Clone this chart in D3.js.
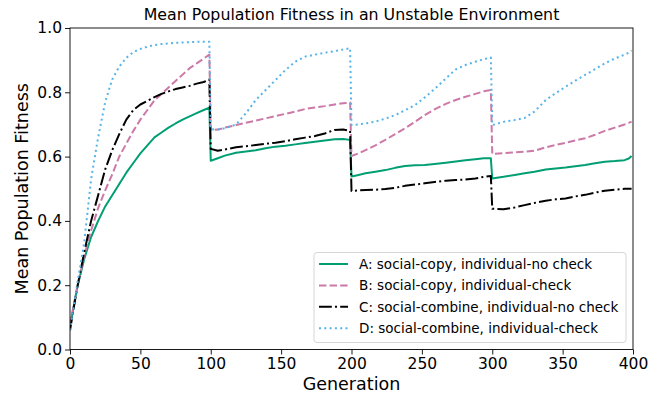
<!DOCTYPE html>
<html lang="en">
<head>
    <meta charset="utf-8">
    <title>Mean Population Fitness</title>
    <script src="https://d3js.org/d3.v7.min.js"></script>
    <style>
        body { margin: 0; background: #fff; }
        text { font-family: "DejaVu Sans", sans-serif; fill: #000; }
    </style>
</head>
<body>
    <svg id="chart" width="660" height="394"></svg>
    <script>
        // generations sampled along the x axis (drops at 100, 200, 300)
        const generations = [
            0, 5, 10, 15, 20, 25, 30, 35, 40, 45, 50, 55, 60, 65, 70, 75, 80, 85, 90, 95, 99,
            100, 105, 110, 118, 125, 132, 139, 146, 153, 160, 167, 174, 181, 188, 194, 199,
            200, 205, 210, 217, 224, 231, 238, 245, 252, 259, 267, 274, 281, 288, 294, 299,
            300, 308, 316, 323, 330, 338, 345, 352, 359, 366, 373, 380, 387, 394, 397, 399
        ];

        const fitnessA = [
            0.07, 0.19, 0.28, 0.35, 0.40, 0.445, 0.48, 0.515, 0.55, 0.58, 0.61, 0.635, 0.66, 0.675, 0.69, 0.703, 0.715, 0.725, 0.735, 0.745, 0.752,
            0.587, 0.595, 0.603, 0.612, 0.616, 0.62, 0.626, 0.631, 0.634, 0.638, 0.642, 0.646, 0.65, 0.654, 0.655, 0.652,
            0.538, 0.543, 0.548, 0.553, 0.558, 0.565, 0.571, 0.573, 0.574, 0.577, 0.581, 0.585, 0.589, 0.592, 0.595, 0.595,
            0.532, 0.537, 0.543, 0.548, 0.553, 0.56, 0.563, 0.566, 0.57, 0.574, 0.579, 0.584, 0.586, 0.589, 0.594, 0.602
        ];
        const fitnessB = [
            0.08, 0.19, 0.29, 0.37, 0.44, 0.495, 0.545, 0.6, 0.64, 0.68, 0.715, 0.745, 0.775, 0.795, 0.815, 0.835, 0.855, 0.875, 0.89, 0.905, 0.917,
            0.683, 0.684, 0.69, 0.698, 0.705, 0.712, 0.719, 0.726, 0.733, 0.74, 0.748, 0.753, 0.757, 0.762, 0.766, 0.768,
            0.602, 0.61, 0.62, 0.635, 0.652, 0.67, 0.688, 0.708, 0.729, 0.747, 0.764, 0.776, 0.786, 0.795, 0.803, 0.807,
            0.608, 0.611, 0.613, 0.615, 0.618, 0.629, 0.636, 0.643, 0.65, 0.657, 0.668, 0.68, 0.69, 0.70, 0.705, 0.709
        ];
        const fitnessC = [
            0.06, 0.19, 0.30, 0.40, 0.48, 0.56, 0.62, 0.67, 0.715, 0.745, 0.762, 0.773, 0.785, 0.795, 0.803, 0.81, 0.815, 0.82, 0.827, 0.832, 0.84,
            0.624, 0.618, 0.622, 0.629, 0.632, 0.636, 0.64, 0.643, 0.648, 0.654, 0.659, 0.664, 0.672, 0.683, 0.684, 0.68,
            0.493, 0.495, 0.496, 0.497, 0.499, 0.503, 0.509, 0.513, 0.517, 0.521, 0.525, 0.527, 0.529, 0.532, 0.537, 0.54,
            0.438, 0.436, 0.442, 0.449, 0.456, 0.463, 0.467, 0.47, 0.476, 0.481, 0.488, 0.494, 0.497, 0.5, 0.5, 0.5
        ];
        const fitnessD = [
            0.06, 0.2, 0.33, 0.53, 0.66, 0.77, 0.84, 0.88, 0.907, 0.925, 0.935, 0.942, 0.947, 0.95, 0.952, 0.954, 0.955, 0.956, 0.957, 0.957, 0.957,
            0.685, 0.684, 0.688, 0.70, 0.735, 0.776, 0.807, 0.838, 0.869, 0.895, 0.911, 0.917, 0.923, 0.928, 0.933, 0.937,
            0.698, 0.70, 0.703, 0.709, 0.718, 0.729, 0.744, 0.76, 0.784, 0.81, 0.843, 0.871, 0.885, 0.895, 0.903, 0.908,
            0.698, 0.708, 0.714, 0.72, 0.74, 0.776, 0.797, 0.817, 0.836, 0.854, 0.872, 0.89, 0.905, 0.917, 0.923, 0.93
        ];

        const seriesLabels = [
            'A: social-copy, individual-no check',
            'B: social-copy, individual-check',
            'C: social-combine, individual-no check',
            'D: social-combine, individual-check'
        ];
        const xTicks = [0, 50, 100, 150, 200, 250, 300, 350, 400];
        const yTicks = [0, 0.2, 0.4, 0.6, 0.8, 1.0];

        // styles for each line
        const colors = ['#009E73', '#CC79A7', '#000000', '#56B4E9'];
        const dashes = [null, '7.4,3.2', '12.8,3.2,2,3.2', '2,3.3'];

        const svg = d3.select('#chart');
        const plotLeft = 70, plotRight = 633, plotTop = 28, plotBottom = 349.5;

        let x = d3.scaleLinear().domain([0, 400]).range([plotLeft, plotRight]);
        let y = d3.scaleLinear().domain([0, 1]).range([plotBottom, plotTop]);

        let series = [fitnessA, fitnessB, fitnessC, fitnessD].map(vals =>
            vals.map((v, i) => ({ gen: generations[i], value: v })));

        let line = d3.line()
            .x(d => x(d.gen))
            .y(d => y(d.value));

        svg.append('defs').append('clipPath').attr('id', 'plot-clip')
            .append('rect')
            .attr('x', plotLeft).attr('y', plotTop)
            .attr('width', plotRight - plotLeft).attr('height', plotBottom - plotTop);

        let plot = svg.append('g').attr('clip-path', 'url(#plot-clip)');
        series.forEach((data, i) => {
            plot.append('path')
                .datum(data)
                .attr('fill', 'none')
                .attr('stroke', colors[i])
                .attr('stroke-width', 2)
                .attr('stroke-dasharray', dashes[i])
                .attr('stroke-linejoin', 'round')
                .attr('d', line);
        });

        // axes
        let xAxis = svg.append('g')
            .attr('transform', `translate(0,${plotBottom})`)
            .call(d3.axisBottom(x).tickValues(xTicks).tickSize(5).tickPadding(3).tickFormat(d3.format('d')));
        let yAxis = svg.append('g')
            .attr('transform', `translate(${plotLeft},0)`)
            .call(d3.axisLeft(y).tickValues(yTicks).tickSize(5).tickPadding(3).tickFormat(d3.format('.1f')));

        for (let ax of [xAxis, yAxis]) {
            ax.selectAll('text').style('font-size', '15.5px').attr('fill', '#000');
            ax.selectAll('line').attr('stroke', '#000').attr('stroke-width', 0.9);
            ax.select('.domain').remove();
        }

        // frame around the plot
        svg.append('rect')
            .attr('x', plotLeft).attr('y', plotTop)
            .attr('width', plotRight - plotLeft).attr('height', plotBottom - plotTop)
            .attr('fill', 'none').attr('stroke', '#000').attr('stroke-width', 0.9);

        svg.append('text')
            .attr('x', (plotLeft + plotRight) / 2).attr('y', 20)
            .attr('text-anchor', 'middle')
            .style('font-size', '15.8px')
            .text('Mean Population Fitness in an Unstable Environment');

        svg.append('text')
            .attr('x', (plotLeft + plotRight) / 2).attr('y', 390)
            .attr('text-anchor', 'middle')
            .style('font-size', '17.5px')
            .text('Generation');

        svg.append('text')
            .attr('transform', `translate(28,${(plotTop + plotBottom) / 2}) rotate(-90)`)
            .attr('text-anchor', 'middle')
            .style('font-size', '17.5px')
            .text('Mean Population Fitness');

        // legend
        let legend = svg.append('g');
        legend.append('rect')
            .attr('x', 314).attr('y', 252.5)
            .attr('width', 312).attr('height', 90)
            .attr('rx', 3)
            .attr('fill', '#fff').attr('fill-opacity', 0.8)
            .attr('stroke', '#d6d6d6');

        seriesLabels.forEach((label, i) => {
            let ly = 264 + i * 21.4;
            legend.append('line')
                .attr('x1', 319).attr('x2', 348)
                .attr('y1', ly).attr('y2', ly)
                .attr('stroke', colors[i])
                .attr('stroke-width', 2)
                .attr('stroke-dasharray', dashes[i]);
            legend.append('text')
                .attr('x', 359).attr('y', ly)
                .attr('dy', '0.35em')
                .style('font-size', '13.5px')
                .text(label);
        });
    </script>
</body>
</html>
